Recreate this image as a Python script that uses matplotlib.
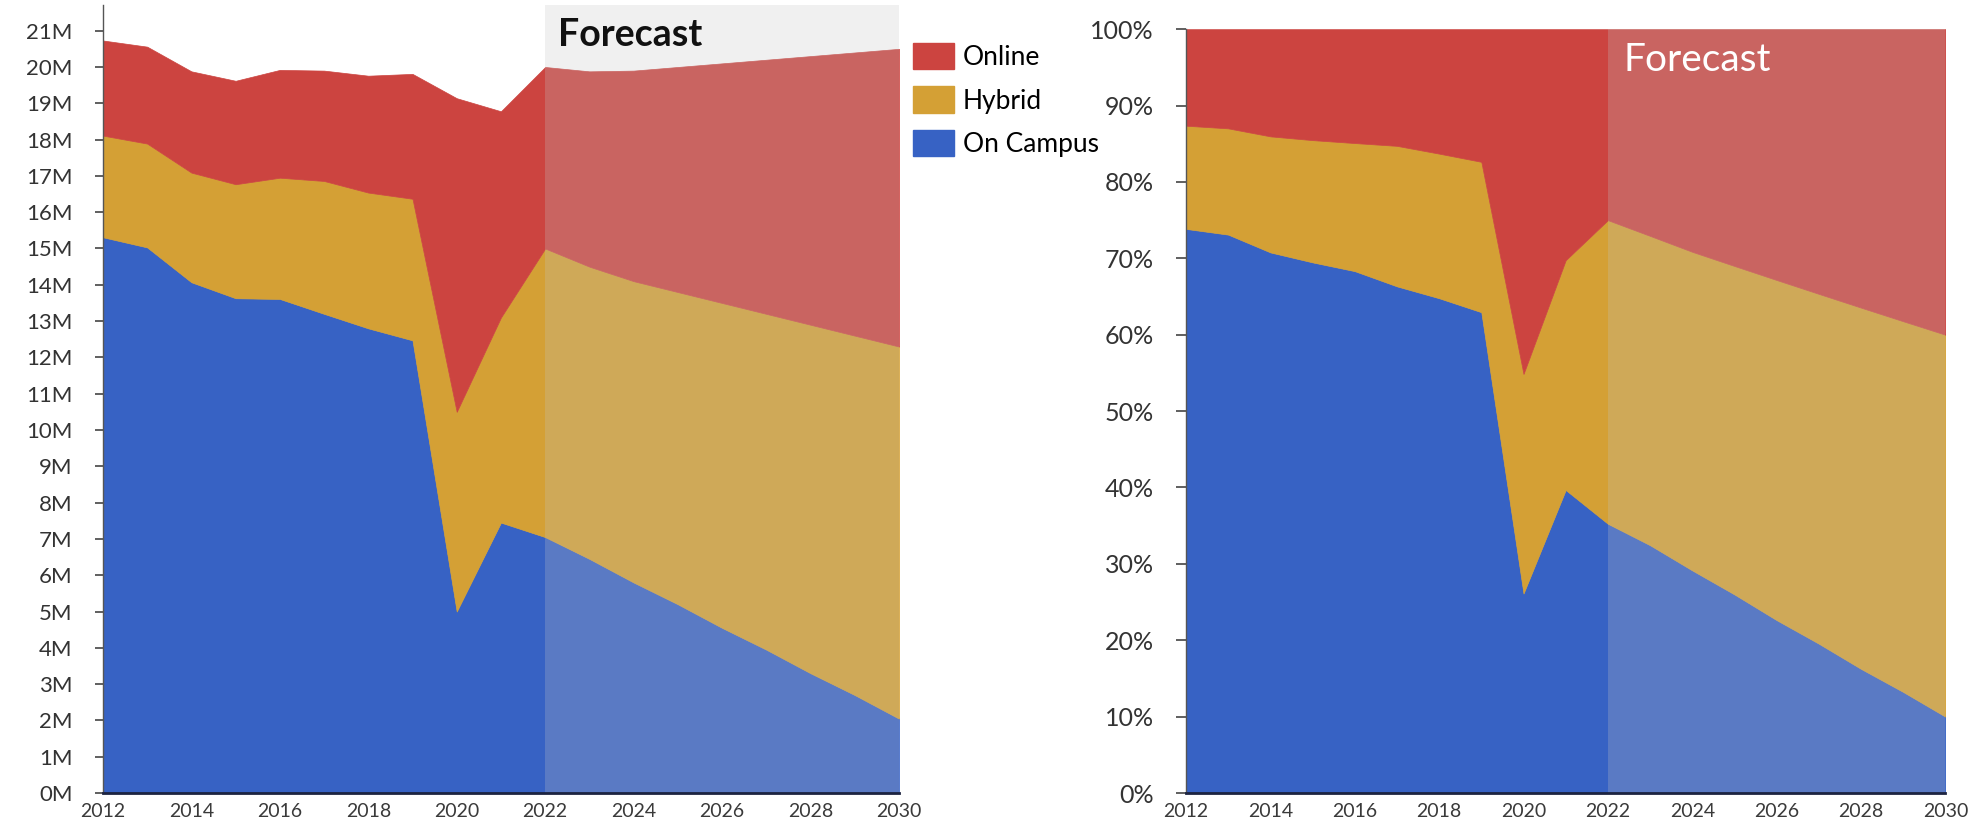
import matplotlib
matplotlib.use("Agg")
import matplotlib.pyplot as plt
import matplotlib.patches as mpatches
import numpy as np

plt.rcParams["font.family"] = ["Lato", "DejaVu Sans"]

# enrollment in millions
years = list(range(2012, 2031))
campus = [15.31, 15.03, 14.07, 13.63, 13.61, 13.2, 12.8, 12.47, 5.0, 7.45,
          7.05, 6.45, 5.8, 5.2, 4.55, 3.95, 3.3, 2.7, 2.05]
hybrid = [2.8, 2.86, 3.02, 3.14, 3.34, 3.66, 3.74, 3.9, 5.5, 5.65,
          7.95, 8.05, 8.3, 8.6, 8.95, 9.25, 9.6, 9.9, 10.25]
online = [2.62, 2.67, 2.79, 2.85, 2.97, 3.04, 3.22, 3.44, 8.64, 5.68,
          5.0, 5.38, 5.8, 6.2, 6.6, 7.0, 7.4, 7.8, 8.2]
labels = ["On Campus", "Hybrid", "Online"]
colors = ["#3762C4", "#D4A035", "#CC4440"]
forecast_start = 2022

count_ticks = list(range(0, 22))
share_ticks = list(range(0, 101, 10))
year_ticks = list(range(2012, 2031, 2))

total = np.array(campus) + np.array(hybrid) + np.array(online)
shares = [100 * np.array(s) / total for s in (campus, hybrid, online)]

fig = plt.figure(figsize=(19.8, 8.24), dpi=100)
ax1 = fig.add_axes([0.052, 0.0376, 0.402, 0.956])
ax2 = fig.add_axes([0.599, 0.0376, 0.3835, 0.927])


def style(ax):
    for side in ["top", "right"]:
        ax.spines[side].set_visible(False)
    ax.spines["left"].set_color("#555555")
    ax.spines["left"].set_linewidth(1)
    ax.spines["bottom"].set_color("#1c2340")
    ax.spines["bottom"].set_linewidth(2)
    ax.spines["bottom"].set_zorder(5)
    ax.set_xlim(2012, 2030)
    ax.set_xticks(year_ticks)
    ax.tick_params(axis="x", length=0, pad=7, labelsize=14, labelcolor="#3a3a3a")
    ax.tick_params(axis="y", length=6, width=1.2, color="#444444", pad=16,
                   labelsize=16, labelcolor="#333333")


ax1.stackplot(years, campus, hybrid, online, colors=colors,
              edgecolor="face", linewidth=0.5, zorder=2)
ax1.axvspan(forecast_start, 2030, color="#C4C4C4", alpha=0.25, lw=0, zorder=3)
ax1.set_ylim(0, 21.7)
ax1.set_yticks(count_ticks)
ax1.set_yticklabels([f"{v}M" for v in count_ticks])
style(ax1)
ax1.text(2022.3, 20.88, "Forecast", fontsize=27, fontweight="bold",
         color="#111111", va="center", ha="left", zorder=4)

ax2.stackplot(years, *shares, colors=colors,
              edgecolor="face", linewidth=0.5, zorder=2)
ax2.axvspan(forecast_start, 2030, color="#C4C4C4", alpha=0.25, lw=0, zorder=3)
ax2.set_ylim(0, 100)
ax2.set_yticks(share_ticks)
ax2.set_yticklabels([f"{v}%" for v in share_ticks])
style(ax2)
ax2.tick_params(axis="y", length=7, pad=16, labelsize=18)
ax2.text(2022.36, 96, "Forecast", fontsize=28, color="white",
         va="center", ha="left", zorder=4)

handles = [mpatches.Patch(color=c, label=l) for c, l in zip(colors, labels)][::-1]
fig.legend(handles=handles, loc="upper left", bbox_to_anchor=(0.4611, 0.948),
           frameon=False, fontsize=19, handlelength=1.55, handleheight=1.17,
           handletextpad=0.34, labelspacing=0.62, borderpad=0, borderaxespad=0)

fig.savefig("out.png", dpi=100)
